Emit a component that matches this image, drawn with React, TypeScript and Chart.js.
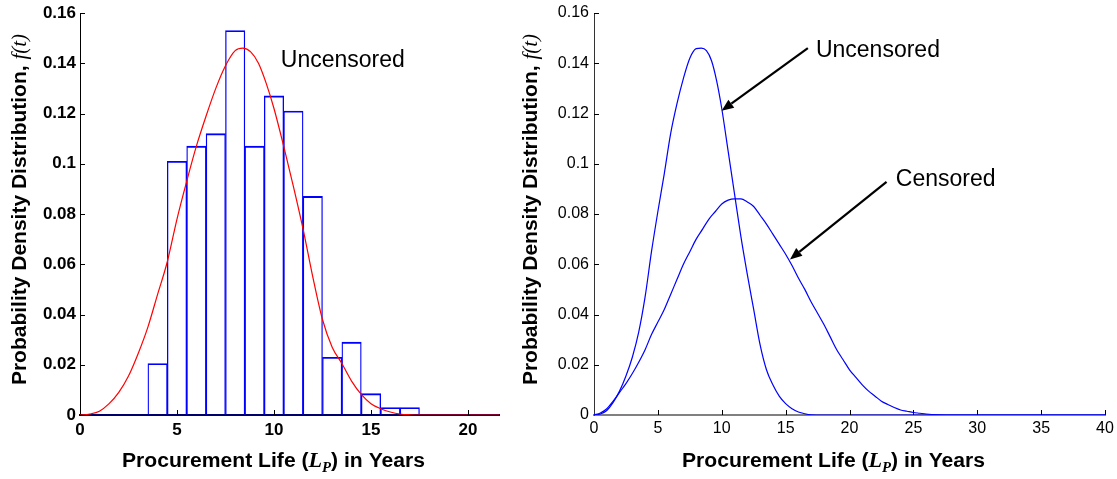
import React, { useEffect, useRef } from 'react';
import { Chart, registerables } from 'chart.js';
Chart.register(...registerables);

// ---------------- data ----------------
const binCenters = [4, 5, 6, 7, 8, 9, 10, 11, 12, 13, 14, 15, 16, 17];
const binDensity = [0.0205, 0.101, 0.107, 0.112, 0.153, 0.107, 0.127, 0.121, 0.087, 0.023, 0.029, 0.0085, 0.003, 0.003];

const fitYears = [0, 0.5, 1, 1.5, 2, 2.5, 3, 3.5, 4, 4.5, 5, 5.5, 6, 6.5, 7, 7.5, 8, 8.4, 8.8, 9.2, 9.6, 10, 10.5, 11, 11.5, 12, 12.5, 13, 13.5, 14, 14.5, 15, 15.5, 16, 16.5, 17, 17.5, 21.6];
const fitDensity = [0, 0.0004, 0.0015, 0.0045, 0.009, 0.0155, 0.0245, 0.035, 0.048, 0.061, 0.078, 0.093, 0.107, 0.119, 0.13, 0.139, 0.145, 0.146, 0.1445, 0.14, 0.132, 0.122, 0.107, 0.091, 0.074, 0.055, 0.038, 0.027, 0.0205, 0.0135, 0.0082, 0.0045, 0.0025, 0.0012, 0.0004, 0.0001, 0, 0];

const uncYears = [0, 0.5, 1, 1.5, 2, 2.5, 3, 3.5, 4, 4.5, 5, 5.5, 6, 6.5, 7, 7.5, 8, 8.4, 8.8, 9.2, 9.6, 10, 10.5, 11, 11.5, 12, 12.5, 13, 13.5, 14, 14.5, 15, 15.5, 16, 16.5, 17, 18, 40];
const uncDensity = [0, 0.0004, 0.0018, 0.005, 0.0095, 0.0155, 0.023, 0.033, 0.047, 0.065, 0.081, 0.096, 0.112, 0.124, 0.134, 0.142, 0.1458, 0.146, 0.145, 0.141, 0.133, 0.122, 0.105, 0.088, 0.071, 0.056, 0.042, 0.028, 0.018, 0.012, 0.0075, 0.0045, 0.0025, 0.0012, 0.0005, 0.0001, 0, 0];

const cenYears = [0, 0.5, 1, 1.5, 2, 2.5, 3, 3.5, 4, 4.5, 5, 5.5, 6, 6.5, 7, 7.5, 8, 8.5, 9, 9.5, 10, 10.5, 11, 11.5, 12, 12.5, 13, 13.5, 14, 14.5, 15, 15.5, 16, 16.5, 17, 17.5, 18, 18.5, 19, 19.5, 20, 20.5, 21, 21.5, 22, 22.5, 23, 23.5, 24, 24.5, 25, 25.5, 26, 27, 28, 40];
const cenDensity = [0, 0.0008, 0.0025, 0.0055, 0.009, 0.0125, 0.0165, 0.021, 0.026, 0.032, 0.037, 0.042, 0.048, 0.054, 0.06, 0.065, 0.07, 0.074, 0.078, 0.081, 0.084, 0.0855, 0.086, 0.086, 0.0848, 0.083, 0.0795, 0.076, 0.072, 0.068, 0.064, 0.0595, 0.0545, 0.05, 0.045, 0.0405, 0.036, 0.031, 0.026, 0.022, 0.018, 0.015, 0.012, 0.0095, 0.0075, 0.0055, 0.0042, 0.003, 0.002, 0.0015, 0.001, 0.0007, 0.0004, 0.0001, 0, 0];

const yTicks = [0, 0.02, 0.04, 0.06, 0.08, 0.1, 0.12, 0.14, 0.16];
const yTickLabels = ['0', '0.02', '0.04', '0.06', '0.08', '0.1', '0.12', '0.14', '0.16'];
const leftXTicks = [0, 5, 10, 15, 20];
const rightXTicks = [0, 5, 10, 15, 20, 25, 30, 35, 40];
const leftXMax = 21.6;
const rightXMax = 40;
const yMax = 0.16;

const yTitleMain = 'Probability Density Distribution, ';
const yTitleVar = 'f(t)';
const xTitleA = 'Procurement Life (';
const xTitleVar = 'L';
const xTitleSub = 'P';
const xTitleB = ') in Years';

const leftNotes = [{ text: 'Uncensored', x: 10.35, y: 0.1387 }];
const rightNotes = [
  { text: 'Uncensored', x: 17.37, y: 0.1426 },
  { text: 'Censored', x: 23.63, y: 0.0911 },
];
const rightArrows = [
  { x0: 16.74, y0: 0.146, x1: 9.99, y1: 0.1211 },
  { x0: 22.9, y0: 0.0928, x1: 15.34, y1: 0.0619 },
];

// ---------------- drawing helpers ----------------
const SANS = '"Liberation Sans", Arial, Helvetica, sans-serif';
const SERIF = '"Liberation Serif", "Times New Roman", serif';

type Seg = { t: string; font: string; dy?: number };

function segsWidth(ctx: CanvasRenderingContext2D, segs: Seg[]) {
  let w = 0;
  for (const s of segs) {
    ctx.font = s.font;
    w += ctx.measureText(s.t).width;
  }
  return w;
}

function drawSegsCentered(ctx: CanvasRenderingContext2D, segs: Seg[]) {
  const w = segsWidth(ctx, segs);
  let cx = -w / 2;
  ctx.textAlign = 'left';
  ctx.textBaseline = 'alphabetic';
  for (const s of segs) {
    ctx.font = s.font;
    ctx.fillText(s.t, cx, s.dy || 0);
    cx += ctx.measureText(s.t).width;
  }
}

const decorPlugin = {
  id: 'decor',
  afterDraw(chart: any, _args: any, o: any) {
    const { ctx, chartArea } = chart;
    const xs = chart.scales.x;
    const ys = chart.scales.y;
    ctx.save();
    // inward tick marks
    ctx.strokeStyle = o.tickColor;
    ctx.lineWidth = 1;
    for (const v of o.xTicks) {
      if (v === 0) continue;
      const px = Math.round(xs.getPixelForValue(v)) + 0.5;
      ctx.beginPath();
      ctx.moveTo(px, chartArea.bottom);
      ctx.lineTo(px, chartArea.bottom - 5);
      ctx.stroke();
    }
    for (const v of o.yTicks) {
      if (v === 0) continue;
      const py = Math.round(ys.getPixelForValue(v)) + 0.5;
      ctx.beginPath();
      ctx.moveTo(chartArea.left, py);
      ctx.lineTo(chartArea.left + 5, py);
      ctx.stroke();
    }

    ctx.fillStyle = '#000';
    // y title
    ctx.save();
    ctx.translate(o.yTitleX, o.yTitleY);
    ctx.rotate(-Math.PI / 2);
    drawSegsCentered(ctx, [
      { t: yTitleMain, font: `bold 21px ${SANS}` },
      { t: yTitleVar, font: `italic 21px ${SERIF}` },
    ]);
    ctx.restore();

    // x title
    const xsegs: Seg[] = [
      { t: xTitleA, font: `bold 20px ${SANS}` },
      { t: xTitleVar, font: `italic bold 21px ${SERIF}` },
      { t: xTitleSub, font: `italic bold 14px ${SERIF}`, dy: 5 },
      { t: xTitleB, font: `bold 20px ${SANS}` },
    ];
    const w = segsWidth(ctx, xsegs);
    ctx.save();
    ctx.translate((chartArea.left + chartArea.right) / 2 - 16, o.xTitleBaseline);
    ctx.scale(o.xTitleWidth / w, 1);
    drawSegsCentered(ctx, xsegs);
    ctx.restore();

    // annotations
    ctx.font = `23px ${SANS}`;
    ctx.textAlign = 'left';
    ctx.textBaseline = 'alphabetic';
    for (const n of o.notes) {
      ctx.fillText(n.text, xs.getPixelForValue(n.x), ys.getPixelForValue(n.y));
    }
    ctx.strokeStyle = '#000';
    ctx.lineWidth = 2.2;
    for (const a of o.arrows) {
      const x0 = xs.getPixelForValue(a.x0);
      const y0 = ys.getPixelForValue(a.y0);
      const x1 = xs.getPixelForValue(a.x1);
      const y1 = ys.getPixelForValue(a.y1);
      const ang = Math.atan2(y1 - y0, x1 - x0);
      const hl = 12;
      const hw = 5;
      const bx = x1 - hl * Math.cos(ang);
      const by = y1 - hl * Math.sin(ang);
      ctx.beginPath();
      ctx.moveTo(x0, y0);
      ctx.lineTo(bx, by);
      ctx.stroke();
      ctx.beginPath();
      ctx.moveTo(x1, y1);
      ctx.lineTo(bx + hw * Math.sin(ang), by - hw * Math.cos(ang));
      ctx.lineTo(bx - hw * Math.sin(ang), by + hw * Math.cos(ang));
      ctx.closePath();
      ctx.fill();
    }
    ctx.restore();
  },
};

function zip(xs: number[], ys: number[]) {
  return xs.map((x, i) => ({ x, y: ys[i] }));
}

function yScale(fontSpec: any, padding: number, width: number, color: string) {
  return {
    type: 'linear',
    min: 0,
    max: yMax,
    afterBuildTicks: (s: any) => {
      s.ticks = yTicks.map((v) => ({ value: v }));
    },
    afterFit: (s: any) => {
      s.width = width;
      s.paddingTop = 0;
      s.paddingBottom = 0;
    },
    ticks: {
      font: fontSpec,
      color: '#000',
      padding,
      callback: (v: number) => {
        const i = yTicks.findIndex((t) => Math.abs(t - v) < 1e-9);
        return i >= 0 ? yTickLabels[i] : '';
      },
    },
    grid: { display: true, drawOnChartArea: false, drawTicks: false },
    border: { display: true, color, width: 1 },
  };
}

function xScale(max: number, ticksArr: number[], fontSpec: any, padding: number, color: string, bw: number) {
  return {
    type: 'linear',
    min: 0,
    max,
    offset: false,
    afterBuildTicks: (s: any) => {
      s.ticks = ticksArr.map((v) => ({ value: v }));
    },
    afterFit: (s: any) => {
      s.height = 64;
      s.paddingLeft = 0;
      s.paddingRight = 0;
    },
    ticks: {
      font: fontSpec,
      color: '#000',
      padding,
      maxRotation: 0,
      autoSkip: false,
      callback: (v: number) => String(v),
    },
    grid: { display: true, drawOnChartArea: false, drawTicks: false },
    border: { display: true, color, width: bw },
  };
}

function LeftChart() {
  const ref = useRef<HTMLCanvasElement>(null);
  useEffect(() => {
    const chart = new Chart(ref.current as HTMLCanvasElement, {
      type: 'bar',
      data: {
        datasets: [
          {
            type: 'line',
            data: zip(fitYears, fitDensity),
            borderColor: '#ff0000',
            borderWidth: 1.2,
            pointRadius: 0,
            cubicInterpolationMode: 'monotone',
            order: 0,
          } as any,
          {
            type: 'bar',
            data: zip(binCenters, binDensity),
            backgroundColor: 'rgba(255,255,255,0)',
            borderColor: '#0000ff',
            borderWidth: { left: 0.65, right: 0.65, top: 1.2, bottom: 0 },
            borderSkipped: false,
            barPercentage: 1,
            categoryPercentage: 1,
            order: 1,
          } as any,
        ],
      },
      options: {
        responsive: false,
        animation: false,
        layout: { padding: { left: 0, top: 13, right: 11, bottom: 0 } },
        plugins: {
          legend: { display: false },
          tooltip: { enabled: false },
          decor: {
            tickColor: '#000',
            xTicks: leftXTicks,
            yTicks,
            yTitleX: 25.5,
            yTitleY: 209.5,
            xTitleBaseline: 467,
            xTitleWidth: 303,
            notes: leftNotes,
            arrows: [],
          },
        } as any,
        scales: {
          x: xScale(leftXMax, leftXTicks, { family: SANS, size: 17, weight: 'bold' }, 5, '#00006a', 2),
          y: yScale({ family: SANS, size: 17, weight: 'bold' }, 4, 80, '#000'),
        } as any,
      },
      plugins: [decorPlugin],
    } as any);
    return () => chart.destroy();
  }, []);
  return <canvas ref={ref} width={510} height={479} style={{ position: 'absolute', left: 0, top: 0 }} />;
}

function RightChart() {
  const ref = useRef<HTMLCanvasElement>(null);
  useEffect(() => {
    const chart = new Chart(ref.current as HTMLCanvasElement, {
      type: 'line',
      data: {
        datasets: [
          {
            data: zip(uncYears, uncDensity),
            borderColor: '#0000ff',
            borderWidth: 1.2,
            pointRadius: 0,
            cubicInterpolationMode: 'monotone',
          },
          {
            data: zip(cenYears, cenDensity),
            borderColor: '#0000ff',
            borderWidth: 1.2,
            pointRadius: 0,
            cubicInterpolationMode: 'monotone',
          },
        ],
      },
      options: {
        responsive: false,
        animation: false,
        layout: { padding: { left: 0, top: 13, right: 12, bottom: 0 } },
        plugins: {
          legend: { display: false },
          tooltip: { enabled: false },
          decor: {
            tickColor: '#000',
            xTicks: rightXTicks,
            yTicks,
            yTitleX: 26.5,
            yTitleY: 209.5,
            xTitleBaseline: 467,
            xTitleWidth: 303,
            notes: rightNotes,
            arrows: rightArrows,
          },
        } as any,
        scales: {
          x: xScale(rightXMax, rightXTicks, { family: SANS, size: 16 }, 4, '#808080', 2),
          y: yScale({ family: SANS, size: 16 }, 5, 84, '#333'),
        } as any,
      },
      plugins: [decorPlugin],
    } as any);
    return () => chart.destroy();
  }, []);
  return <canvas ref={ref} width={607} height={479} style={{ position: 'absolute', left: 510, top: 0 }} />;
}

export default function App() {
  return (
    <div style={{ position: 'fixed', left: 0, top: 0, width: 1117, height: 479, background: '#fff', overflow: 'hidden' }}>
      <LeftChart />
      <RightChart />
    </div>
  );
}
